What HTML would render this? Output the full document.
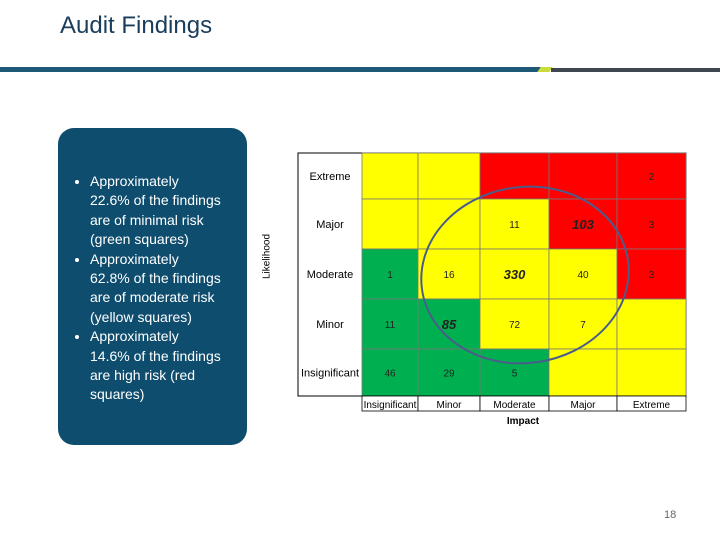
<!DOCTYPE html>
<html><head><meta charset="utf-8"><style>
body{margin:0;width:720px;height:540px;background:#fff;position:relative;overflow:hidden;font-family:"Liberation Sans",sans-serif}
.abs{position:absolute}
li{white-space:nowrap}
</style></head><body>
<div class="abs" style="left:60px;top:12px;font-size:24px;color:#1a3d5c">Audit Findings</div>
<div class="abs" style="left:0;top:67px;width:545px;height:5px;background:#1d5876"></div>
<div class="abs" style="left:539px;top:67px;width:12px;height:5px;background:#c9dc3a;transform:skewX(-35deg)"></div>
<div class="abs" style="left:551px;top:68px;width:169px;height:4px;background:#3f4650"></div>
<div class="abs" style="left:58px;top:128px;width:189px;height:317px;background:#0e4d6e;border-radius:16px;color:#fff;font-size:14px;line-height:19.4px">
<ul style="margin:44px 0 0 0;padding-left:32px;width:150px">
<li>Approximately<br>22.6% of the findings<br>are of minimal risk<br>(green squares)</li>
<li>Approximately<br>62.8% of the findings<br>are of moderate risk<br>(yellow squares)</li>
<li>Approximately<br>14.6% of the findings<br>are high risk (red<br>squares)</li>
</ul></div>
<div class="abs" style="left:240px;top:251px;width:54px;font-size:10px;transform:rotate(-90deg);text-align:center">Likelihood</div>
<svg class="abs" style="left:0;top:0" width="720" height="540"></svg>
<div class="abs" style="left:664px;top:509px;font-size:11px;color:#666">18</div>
<script>
const rows=["Extreme","Major","Moderate","Minor","Insignificant"];
const cols=["Insignificant","Minor","Moderate","Major","Extreme"];
const colorsGrid=[["Y","Y","R","R","R"],["Y","Y","Y","R","R"],["G","Y","Y","Y","R"],["G","G","Y","Y","Y"],["G","G","G","Y","Y"]];
const counts=[[null,null,null,null,2],[null,null,11,103,3],[1,16,330,40,3],[11,85,72,7,null],[46,29,5,null,null]];
const xe=[362,418,480,549,617,686],ye=[153,199,249,299,349,396];
const fill={Y:"#ffff00",R:"#ff0000",G:"#00b050"};
const svg=document.querySelector("svg"),NS="http://www.w3.org/2000/svg";
function mk(t,a,p){const e=document.createElementNS(NS,t);for(const k in a)e.setAttribute(k,a[k]);(p||svg).appendChild(e);return e;}
const bg=mk("rect",{x:298,y:153,width:388,height:243,fill:"#fff",stroke:"#000","stroke-width":1});


rows.forEach((r,i)=>{
 const t=mk("text",{x:330,y:(ye[i]+ye[i+1])/2+4,"font-size":11,"text-anchor":"middle","font-family":"Liberation Sans"});t.textContent=r;
 
 
 cols.forEach((c,j)=>{
  const rc=mk("rect",{x:xe[j],y:ye[i],width:xe[j+1]-xe[j],height:ye[i+1]-ye[i],fill:fill[colorsGrid[i][j]],stroke:"#777","stroke-width":0.8});
  
  
  const v=counts[i][j];
  if(v!==null){const big=v>80;const tx=mk("text",{x:(xe[j]+xe[j+1])/2,y:(ye[i]+ye[i+1])/2+(big?5:4),"font-size":big?13:10,"font-style":big?"italic":"normal","font-weight":big?"bold":"normal","text-anchor":"middle","font-family":"Liberation Sans",fill:"#222"});tx.textContent=v;
  
  }
 });
});
mk("line",{x1:298,y1:396,x2:686,y2:396,stroke:"#000"});
cols.forEach((c,j)=>{
 const b=mk("rect",{x:xe[j],y:396,width:xe[j+1]-xe[j],height:15,fill:"#fff",stroke:"#000","stroke-width":0.8});
 
 
 const t=mk("text",{x:(xe[j]+xe[j+1])/2,y:408,"font-size":10,"text-anchor":"middle","font-family":"Liberation Sans"});
 t.textContent=c;
 
 
});
const it=mk("text",{x:523,y:424,"font-size":10,"font-weight":"bold","text-anchor":"middle","font-family":"Liberation Sans"});it.textContent="Impact";


const el=mk("ellipse",{cx:525,cy:275,rx:104,ry:88,fill:"none",stroke:"#4a5d8a","stroke-width":2,transform:"rotate(-8 525 275)"});


</script>
</body></html>
